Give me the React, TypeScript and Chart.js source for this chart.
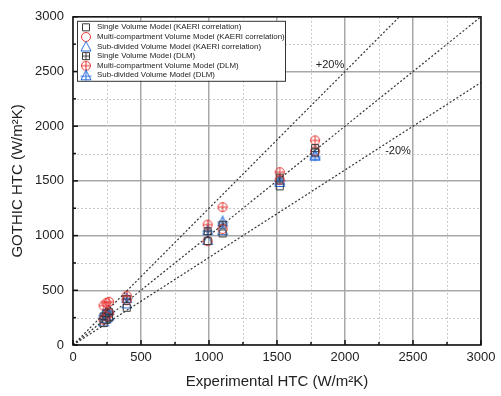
import React, { useEffect, useRef } from "react";
import { Chart, registerables } from "chart.js";

Chart.register(...registerables);

const expHTC = [225, 245, 265, 395, 990, 1100, 1520, 1780];
const singleKAERI = [200, 230, 250, 340, 950, 1020, 1450, 1760];
const multiKAERI = [230, 260, 290, 410, 950, 1060, 1510, 1770];
const subKAERI = [215, 245, 270, 380, 960, 1050, 1490, 1740];
const singleDLM = [260, 290, 300, 420, 1040, 1100, 1530, 1800];
const multiDLM = [360, 385, 395, 450, 1100, 1260, 1580, 1870];
const subDLM = [280, 300, 320, 430, 1050, 1130, 1510, 1730];

const seriesNames = [
  "Single Volume Model (KAERI correlation)",
  "Multi-compartment Volume Model (KAERI correlation)",
  "Sub-divided Volume Model (KAERI correlation)",
  "Single Volume Model (DLM)",
  "Multi-compartment Volume Model (DLM)",
  "Sub-divided Volume Model (DLM)",
];
const refSlopes = [1, 1.25, 0.8];
const refLabels = ["+20%", "-20%"];
const axisMin = 0;
const axisMax = 3000;

const BLACK = "#3a3a3a";
const RED = "#e8322e";
const BLUE = "#2b6fdc";
const FONT = "'Liberation Sans', Arial, sans-serif";

function makeMarker(shape: string, color: string, cross: boolean): HTMLCanvasElement {
  const c = document.createElement("canvas");
  c.width = 12;
  c.height = 12;
  const g = c.getContext("2d")!;
  g.strokeStyle = color;
  g.lineWidth = 1;
  const cx = 6, cy = 6;
  g.beginPath();
  if (shape === "square") {
    g.rect(2.5, 2.5, 7, 7);
  } else if (shape === "circle") {
    g.arc(cx, cy, 4.5, 0, Math.PI * 2);
  } else {
    g.moveTo(cx, 1);
    g.lineTo(11, 10.5);
    g.lineTo(1, 10.5);
    g.closePath();
  }
  g.stroke();
  if (cross) {
    g.beginPath();
    if (shape === "triangle") {
      g.moveTo(cx, 0.5);
      g.lineTo(cx, 11.5);
      g.moveTo(0.5, 7);
      g.lineTo(11.5, 7);
    } else if (shape === "circle") {
      g.moveTo(cx, 1.5);
      g.lineTo(cx, 10.5);
      g.moveTo(1.5, cy);
      g.lineTo(10.5, cy);
    } else {
      g.moveTo(cx, 2.5);
      g.lineTo(cx, 9.5);
      g.moveTo(2.5, cy);
      g.lineTo(9.5, cy);
    }
    g.stroke();
  }
  return c;
}

export default function App() {
  const ref = useRef<HTMLCanvasElement>(null);
  useEffect(() => {
    document.body.style.margin = "0";
    const markers = [
      makeMarker("square", BLACK, false),
      makeMarker("circle", RED, false),
      makeMarker("triangle", BLUE, false),
      makeMarker("square", BLACK, true),
      makeMarker("circle", RED, true),
      makeMarker("triangle", BLUE, true),
    ];
    const ys = [singleKAERI, multiKAERI, subKAERI, singleDLM, multiDLM, subDLM];
    const scatterSets = ys.map((arr, i) => ({
      type: "scatter" as const,
      label: seriesNames[i],
      data: expHTC.map((x, j) => ({ x, y: arr[j] })),
      pointStyle: markers[i],
      pointRadius: 5,
      showLine: false,
    }));
    const refSets = refSlopes.map((s) => {
      const xEnd = Math.min(axisMax, axisMax / s);
      return {
        type: "line" as const,
        label: "ref" + s,
        data: [
          { x: axisMin, y: axisMin },
          { x: xEnd, y: xEnd * s },
        ],
        borderColor: "#333",
        borderWidth: 1.2,
        borderDash: [2, 2],
        pointRadius: 0,
        fill: false,
      };
    });

    const decor = {
      id: "decor",
      beforeDatasetsDraw(chart: any) {
        const { ctx, chartArea: a, scales } = chart;
        const xs = scales.x, yS = scales.y;
        ctx.save();
        ctx.strokeStyle = "#c8c8c8";
        ctx.lineWidth = 1;
        ctx.setLineDash([2, 2]);
        for (let v = 250; v < axisMax; v += 500) {
          const px = Math.round(xs.getPixelForValue(v)) + 0.5;
          ctx.beginPath();
          ctx.moveTo(px, a.top);
          ctx.lineTo(px, a.bottom);
          ctx.stroke();
          const py = Math.round(yS.getPixelForValue(v)) + 0.5;
          ctx.beginPath();
          ctx.moveTo(a.left, py);
          ctx.lineTo(a.right, py);
          ctx.stroke();
        }
        ctx.restore();
      },
      afterDatasetsDraw(chart: any) {
        const { ctx, chartArea: a, scales } = chart;
        const xs = scales.x, yS = scales.y;
        ctx.save();
        ctx.strokeStyle = "#111";
        ctx.lineWidth = 1.5;
        ctx.strokeRect(a.left, a.top, a.right - a.left, a.bottom - a.top);
        for (let v = 0; v <= axisMax; v += 250) {
          const len = v % 500 === 0 ? 5 : 3;
          const px = xs.getPixelForValue(v);
          ctx.beginPath();
          ctx.moveTo(px, a.bottom);
          ctx.lineTo(px, a.bottom - len);
          ctx.stroke();
          const py = yS.getPixelForValue(v);
          ctx.beginPath();
          ctx.moveTo(a.left, py);
          ctx.lineTo(a.left + len, py);
          ctx.stroke();
        }
        ctx.fillStyle = "#222";
        ctx.font = "11px " + FONT;
        ctx.textAlign = "center";
        ctx.textBaseline = "middle";
        ctx.fillText(refLabels[0], xs.getPixelForValue(1890), yS.getPixelForValue(2557));
        ctx.fillText(refLabels[1], xs.getPixelForValue(2390), yS.getPixelForValue(1770));
        const lx = a.left + 4, ly = a.top + 4;
        const lw = 208, lh = 60;
        ctx.fillStyle = "#fff";
        ctx.fillRect(lx, ly, lw, lh);
        ctx.strokeStyle = "#333";
        ctx.lineWidth = 1;
        ctx.strokeRect(lx + 0.5, ly + 0.5, lw, lh);
        ctx.font = "7.9px " + FONT;
        ctx.textAlign = "left";
        ctx.fillStyle = "#222";
        for (let i = 0; i < seriesNames.length; i++) {
          const yy = ly + 6.5 + i * 9.6;
          ctx.drawImage(markers[i], lx + 3, yy - 6);
          ctx.fillText(seriesNames[i], lx + 20, yy);
        }
        ctx.restore();
      },
    };

    const chart = new Chart(ref.current!, {
      type: "scatter",
      data: { datasets: [...refSets, ...scatterSets] as any },
      options: {
        animation: false,
        responsive: false,
        maintainAspectRatio: false,
        layout: { padding: { top: 14, right: 20, left: 0, bottom: 0 } },
        plugins: { legend: { display: false }, tooltip: { enabled: false } },
        scales: {
          x: {
            type: "linear",
            min: axisMin,
            max: axisMax,
            afterFit: (s: any) => { s.height = 51; },
            ticks: {
              stepSize: 500,
              padding: 5,
              color: "#222",
              font: { family: FONT, size: 13 },
              maxRotation: 0,
              callback: (v: any) => String(v),
            },
            grid: { color: "#a8a8a8", lineWidth: 1.5, drawTicks: false },
            border: { display: false },
            title: {
              display: true,
              text: "Experimental HTC (W/m²K)",
              color: "#222",
              font: { family: FONT, size: 15 },
              padding: { top: 0, bottom: 5 },
            },
          },
          y: {
            type: "linear",
            min: axisMin,
            max: axisMax,
            afterFit: (s: any) => { s.width = 73; },
            ticks: {
              stepSize: 500,
              padding: 9,
              color: "#222",
              font: { family: FONT, size: 13 },
              callback: (v: any) => String(v),
            },
            grid: { color: "#a8a8a8", lineWidth: 1.5, drawTicks: false },
            border: { display: false },
            title: {
              display: true,
              text: "GOTHIC HTC (W/m²K)",
              color: "#222",
              font: { family: FONT, size: 15 },
              padding: { top: 9, bottom: 0 },
            },
          },
        },
      },
      plugins: [decor],
    });
    return () => chart.destroy();
  }, []);
  return (
    <div style={{ width: 501, height: 396, position: "absolute", left: 0, top: 0 }}>
      <canvas ref={ref} width={501} height={396} style={{ width: 501, height: 396 }} />
    </div>
  );
}
